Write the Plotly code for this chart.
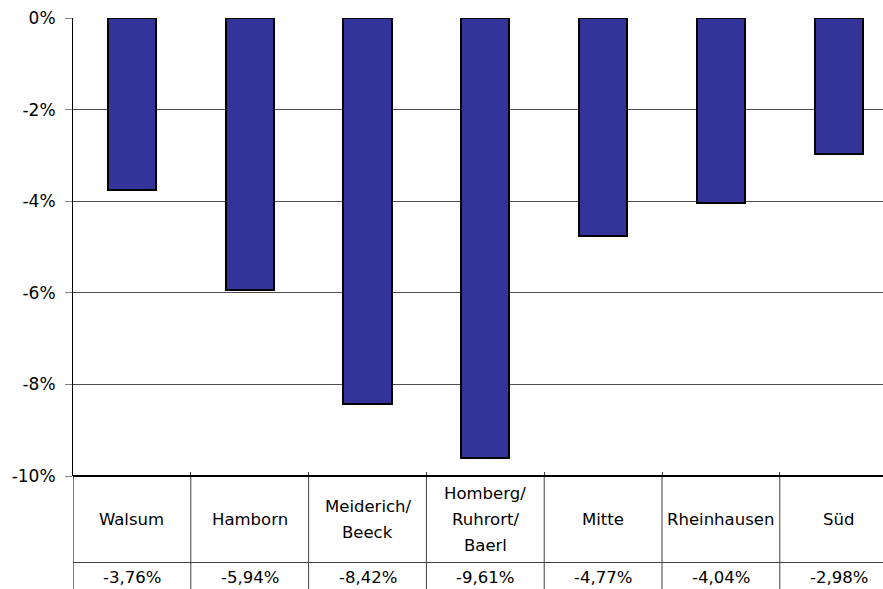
import plotly.graph_objects as go

# Stadtbezirke and their percentage change
districts = ["Walsum", "Hamborn", "Meiderich/\nBeeck", "Homberg/\nRuhrort/\nBaerl",
             "Mitte", "Rheinhausen", "Süd"]
changes = [-3.76, -5.94, -8.42, -9.61, -4.77, -4.04, -2.98]
y_ticks = [0, -2, -4, -6, -8, -10]
y_tick_labels = ["0%", "-2%", "-4%", "-6%", "-8%", "-10%"]

FONT = "DejaVu Sans"
W, H = 883, 589
M_L, M_R, M_T, M_B = 73, 0, 18, 113
plot_h = H - M_T - M_B

def px_to_paper_y(py):
    # convert a pixel row (from top of page) to paper y
    return (H - M_B - py) / plot_h

x_idx = list(range(len(districts)))

fig = go.Figure()
fig.add_trace(go.Bar(
    x=x_idx, y=changes, width=0.41,
    marker=dict(color="#333399", line=dict(color="#000000", width=2)),
    hoverinfo="skip",
))

annotations = []
shapes = []

# category label row: each line placed separately for wide line spacing
label_center = 519.5
line_gap = 26
for i, name in enumerate(districts):
    lines = name.split("\n")
    n = len(lines)
    for k, ln in enumerate(lines):
        py = label_center + (k - (n - 1) / 2) * line_gap
        annotations.append(dict(
            x=i, xref="x", y=px_to_paper_y(py), yref="paper",
            text=ln, showarrow=False, xanchor="center", yanchor="middle",
            font=dict(family=FONT, size=16.5, color="#000000"),
        ))

# value row
for i, v in enumerate(changes):
    annotations.append(dict(
        x=i, xref="x", y=px_to_paper_y(577.5), yref="paper",
        text=f"{v:.2f}".replace(".", ",") + "%", showarrow=False,
        xanchor="center", yanchor="middle",
        font=dict(family=FONT, size=16.5, color="#000000"),
    ))

# table grid: vertical column borders
for i in range(len(districts) + 1):
    shapes.append(dict(
        type="line", xref="x", yref="paper",
        x0=i - 0.5, x1=i - 0.5, y0=0, y1=px_to_paper_y(H + 5),
        line=dict(color="#000000" if i == 0 else "#404040", width=1),
    ))
# separator between label row and value row
shapes.append(dict(
    type="line", xref="paper", yref="paper",
    x0=0, x1=1, y0=px_to_paper_y(562.5), y1=px_to_paper_y(562.5),
    line=dict(color="#404040", width=1),
))
# heavy bottom edge of the chart / top of table
shapes.append(dict(
    type="line", xref="paper", yref="paper",
    x0=0, x1=1, y0=0, y1=0,
    line=dict(color="#000000", width=2),
))

span = (W - M_L - M_R) / 117.8

fig.update_layout(
    width=W, height=H,
    margin=dict(l=M_L, r=M_R, t=M_T, b=M_B, pad=0),
    paper_bgcolor="#ffffff", plot_bgcolor="#ffffff",
    showlegend=False,
    bargap=0,
    xaxis=dict(
        range=[-0.5, -0.5 + span], showgrid=False, zeroline=False,
        showticklabels=False, showline=False,
        tickvals=[i - 0.5 for i in range(len(districts) + 1)],
        ticks="inside", ticklen=4, tickcolor="#404040",
        fixedrange=True,
    ),
    yaxis=dict(
        range=[-10, 0], tickvals=y_ticks, ticktext=y_tick_labels,
        showgrid=True, gridcolor="#505050", gridwidth=1,
        zeroline=False, showline=True, linecolor="#000000", linewidth=1,
        ticks="outside", ticklen=7, tickcolor="#808080",
        ticklabelstandoff=6,
        tickfont=dict(family=FONT, size=17, color="#000000"),
        fixedrange=True,
    ),
    annotations=annotations,
    shapes=shapes,
)

fig.write_html("out.html")
